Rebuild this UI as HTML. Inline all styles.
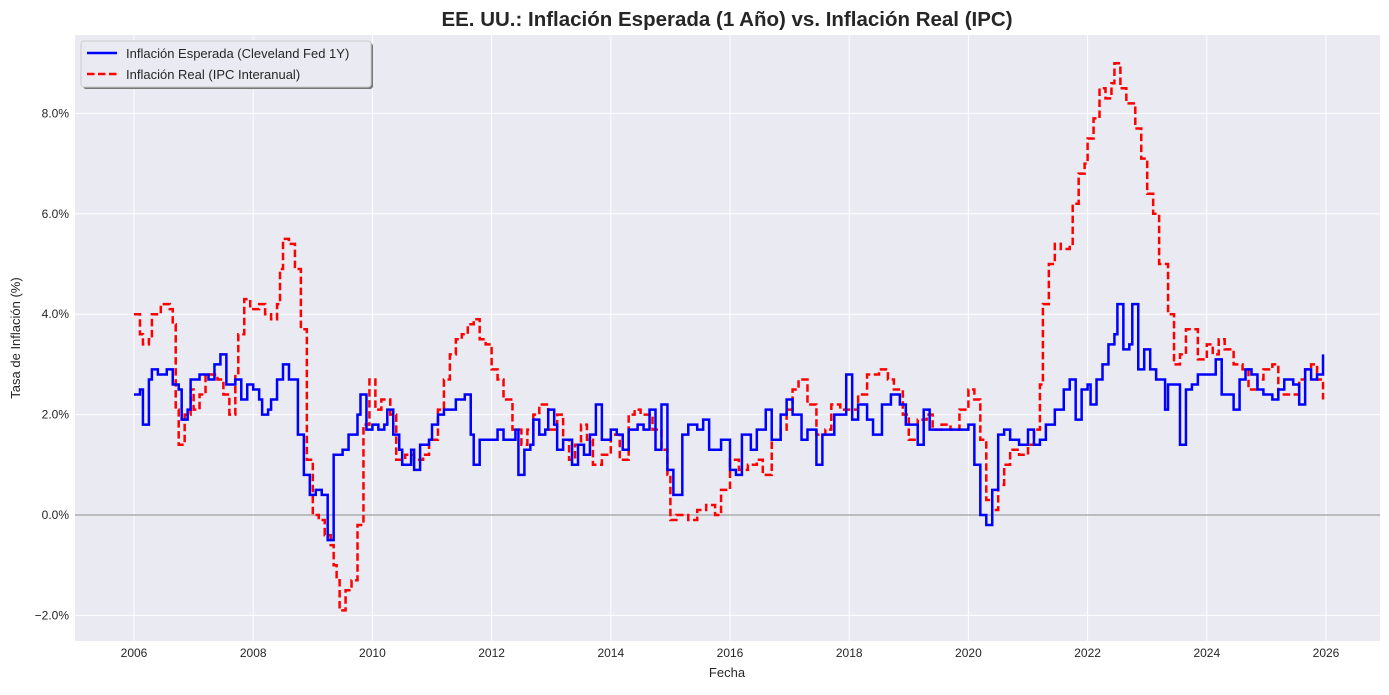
<!DOCTYPE html>
<html><head><meta charset="utf-8"><style>
body{margin:0;background:#fff;font-family:"Liberation Sans",sans-serif}
svg text{font-family:"Liberation Sans",sans-serif}
</style></head><body>
<svg id="s" width="1389" height="690" xmlns="http://www.w3.org/2000/svg">
<rect x="0" y="0" width="1389" height="690" fill="#fff"/>
<rect x="75" y="35" width="1305" height="606" fill="#eaeaf2"/>
<g id="grid"></g>
<line x1="75" x2="1380" y1="515" y2="515" stroke="#999" stroke-width="1.5" opacity="0.8"/>
<path id="red" fill="none" stroke="#ff0000" stroke-width="2.5" stroke-dasharray="7.5,3.5"/>
<path id="blue" fill="none" stroke="#0000ff" stroke-width="2.5"/>
<text x="727" y="26" text-anchor="middle" font-size="20.5" font-weight="bold" fill="#262626">EE. UU.: Inflación Esperada (1 Año) vs. Inflación Real (IPC)</text>
<text x="727" y="677" text-anchor="middle" font-size="13" fill="#262626">Fecha</text>
<text transform="translate(20,338) rotate(-90)" text-anchor="middle" font-size="13" fill="#262626">Tasa de Inflación (%)</text>
<g>
<rect x="83" y="43" width="290" height="46" rx="3" fill="#777"/>
<rect x="81" y="41" width="290" height="46" rx="3" fill="#eaeaf2" stroke="#ccc"/>
<line x1="87" x2="117" y1="53" y2="53" stroke="#0000ff" stroke-width="2.5"/>
<text x="126" y="58" font-size="13" fill="#262626">Inflación Esperada (Cleveland Fed 1Y)</text>
<line x1="87" x2="117" y1="74" y2="74" stroke="#ff0000" stroke-width="2.5" stroke-dasharray="7.5,3.5"/>
<text x="126" y="79" font-size="13" fill="#262626">Inflación Real (IPC Interanual)</text>
</g>
</svg>
<script>
function X(t){return 134+59.6*(t-2006)}function Y(v){return 515-50.2*v}
var g=document.getElementById('grid'),h='';
for(var yr=2006;yr<=2026;yr+=2){var x=X(yr);h+='<line x1="'+x+'" x2="'+x+'" y1="35" y2="641" stroke="#fff"/><text x="'+x+'" y="657" text-anchor="middle" font-size="12" fill="#262626">'+yr+'</text>';}
for(var v=-2;v<=8;v+=2){var y=Y(v);h+='<line x1="75" x2="1380" y1="'+y+'" y2="'+y+'" stroke="#fff"/><text x="69" y="'+(y+4)+'" text-anchor="end" font-size="12" fill="#262626">'+(v<0?'\u2212'+(-v).toFixed(1):v.toFixed(1))+'%</text>';}
g.innerHTML=h;
function P(s,end){var a=s.trim().split(/\s+/).map(function(p){return p.split(':').map(Number)});var d='M'+X(a[0][0])+','+Y(a[0][1]);for(var i=1;i<a.length;i++){d+='H'+X(a[i][0])+'V'+Y(a[i][1]);}d+='H'+X(end);return d;}
var red="2006.0:4.0 2006.1:3.6 2006.15:3.4 2006.25:3.5 2006.3:4.0 2006.45:4.2 2006.6:4.1 2006.65:3.8 2006.7:2.1 2006.75:1.4 2006.85:2.0 2006.95:2.5 2007.0:2.1 2007.1:2.4 2007.2:2.8 2007.4:2.7 2007.5:2.4 2007.6:2.0 2007.7:2.8 2007.75:3.6 2007.85:4.3 2007.95:4.1 2008.1:4.2 2008.2:4.0 2008.3:3.9 2008.4:4.2 2008.45:4.9 2008.5:5.5 2008.6:5.4 2008.7:4.9 2008.8:3.7 2008.9:1.1 2009.0:0.0 2009.1:-0.1 2009.2:-0.4 2009.3:-0.6 2009.35:-1.0 2009.4:-1.3 2009.45:-1.9 2009.55:-1.5 2009.65:-1.3 2009.75:-0.2 2009.85:1.8 2009.95:2.7 2010.05:2.1 2010.15:2.3 2010.3:2.0 2010.4:1.1 2010.55:1.2 2010.7:1.1 2010.85:1.2 2010.95:1.5 2011.1:2.1 2011.2:2.7 2011.3:3.2 2011.4:3.5 2011.5:3.6 2011.6:3.8 2011.7:3.9 2011.8:3.5 2011.9:3.4 2012.0:2.9 2012.1:2.7 2012.2:2.3 2012.35:1.7 2012.5:1.4 2012.6:1.7 2012.7:2.0 2012.8:2.2 2012.95:1.7 2013.1:2.0 2013.2:1.5 2013.3:1.1 2013.4:1.4 2013.5:1.8 2013.6:1.5 2013.7:1.0 2013.85:1.2 2014.0:1.6 2014.15:1.1 2014.3:2.0 2014.4:2.1 2014.5:2.0 2014.7:1.7 2014.85:1.3 2014.95:0.8 2015.0:-0.1 2015.1:0.0 2015.3:-0.1 2015.45:0.1 2015.6:0.2 2015.75:0.0 2015.85:0.5 2016.0:1.1 2016.15:0.9 2016.3:1.0 2016.45:1.1 2016.55:0.8 2016.7:1.5 2016.85:1.7 2016.95:2.1 2017.05:2.5 2017.15:2.7 2017.3:2.2 2017.45:1.6 2017.6:1.7 2017.7:2.2 2017.85:2.1 2018.0:2.1 2018.15:2.4 2018.3:2.8 2018.5:2.9 2018.65:2.7 2018.75:2.5 2018.9:2.0 2019.0:1.5 2019.15:1.9 2019.3:2.0 2019.4:1.7 2019.55:1.8 2019.7:1.7 2019.85:2.1 2020.0:2.5 2020.1:2.3 2020.2:1.5 2020.3:0.3 2020.4:0.1 2020.5:0.6 2020.6:1.0 2020.7:1.3 2020.85:1.2 2021.0:1.4 2021.1:1.7 2021.2:2.6 2021.25:4.2 2021.35:5.0 2021.45:5.4 2021.55:5.3 2021.7:5.4 2021.75:6.2 2021.85:6.8 2021.95:7.0 2022.0:7.5 2022.1:7.9 2022.2:8.5 2022.3:8.3 2022.4:8.6 2022.45:9.0 2022.55:8.5 2022.65:8.2 2022.8:7.7 2022.9:7.1 2023.0:6.4 2023.1:6.0 2023.2:5.0 2023.35:4.0 2023.45:3.0 2023.55:3.2 2023.65:3.7 2023.75:3.7 2023.85:3.1 2024.0:3.4 2024.1:3.2 2024.2:3.5 2024.3:3.3 2024.45:3.0 2024.6:2.9 2024.7:2.5 2024.85:2.7 2024.95:2.9 2025.1:3.0 2025.2:2.4 2025.4:2.4 2025.55:2.7 2025.65:2.9 2025.75:3.0 2025.85:2.7 2025.95:2.3";
var blue="2006.0:2.4 2006.1:2.5 2006.15:1.8 2006.25:2.7 2006.3:2.9 2006.4:2.8 2006.55:2.9 2006.65:2.6 2006.75:2.5 2006.8:1.9 2006.9:2.1 2006.95:2.7 2007.1:2.8 2007.25:2.7 2007.35:3.0 2007.45:3.2 2007.55:2.6 2007.7:2.7 2007.8:2.3 2007.9:2.6 2008.0:2.5 2008.1:2.3 2008.15:2.0 2008.25:2.1 2008.3:2.3 2008.4:2.7 2008.5:3.0 2008.6:2.7 2008.75:1.6 2008.85:0.8 2008.95:0.4 2009.05:0.5 2009.15:0.4 2009.25:-0.5 2009.35:1.2 2009.5:1.3 2009.6:1.6 2009.75:2.0 2009.8:2.4 2009.9:1.7 2010.0:1.8 2010.1:1.7 2010.2:1.8 2010.25:2.1 2010.35:1.6 2010.45:1.3 2010.5:1.0 2010.65:1.3 2010.7:0.9 2010.8:1.4 2010.95:1.5 2011.0:1.8 2011.1:2.0 2011.2:2.1 2011.4:2.3 2011.55:2.4 2011.65:1.6 2011.7:1.0 2011.8:1.5 2012.0:1.5 2012.1:1.7 2012.2:1.5 2012.35:1.5 2012.4:1.7 2012.45:0.8 2012.55:1.3 2012.65:1.4 2012.7:1.9 2012.8:1.6 2012.9:1.7 2012.95:2.1 2013.05:1.8 2013.1:1.3 2013.2:1.5 2013.35:1.0 2013.45:1.4 2013.55:1.2 2013.65:1.6 2013.75:2.2 2013.85:1.5 2014.0:1.7 2014.1:1.6 2014.2:1.3 2014.3:1.7 2014.45:1.8 2014.55:1.7 2014.65:2.1 2014.75:1.3 2014.85:2.2 2014.95:0.9 2015.05:0.4 2015.2:1.6 2015.3:1.8 2015.45:1.7 2015.55:1.9 2015.65:1.3 2015.85:1.5 2016.0:0.9 2016.1:0.8 2016.2:1.6 2016.35:1.3 2016.45:1.7 2016.6:2.1 2016.7:1.5 2016.85:2.0 2016.95:2.3 2017.05:2.0 2017.2:1.5 2017.3:1.7 2017.45:1.0 2017.55:1.6 2017.75:2.0 2017.85:2.0 2017.95:2.8 2018.05:1.9 2018.15:2.2 2018.3:1.9 2018.4:1.6 2018.55:2.2 2018.7:2.4 2018.85:2.2 2018.95:1.8 2019.15:1.4 2019.25:2.1 2019.35:1.7 2019.5:1.7 2019.7:1.7 2019.8:1.7 2020.0:1.8 2020.1:1.0 2020.2:0.0 2020.3:-0.2 2020.4:0.5 2020.5:1.6 2020.6:1.7 2020.7:1.5 2020.85:1.4 2021.0:1.7 2021.1:1.4 2021.2:1.5 2021.3:1.8 2021.45:2.1 2021.6:2.5 2021.7:2.7 2021.8:1.9 2021.9:2.5 2022.0:2.6 2022.05:2.2 2022.15:2.7 2022.25:3.0 2022.35:3.4 2022.45:3.6 2022.5:4.2 2022.6:3.3 2022.7:3.4 2022.75:4.2 2022.85:2.9 2022.95:3.3 2023.05:2.9 2023.15:2.7 2023.3:2.1 2023.35:2.6 2023.55:1.4 2023.65:2.5 2023.75:2.6 2023.85:2.8 2024.0:2.8 2024.15:3.1 2024.25:2.4 2024.45:2.1 2024.55:2.7 2024.65:2.9 2024.75:2.8 2024.85:2.5 2024.95:2.4 2025.1:2.3 2025.2:2.5 2025.3:2.7 2025.45:2.6 2025.55:2.2 2025.65:2.9 2025.75:2.7 2025.85:2.8 2025.95:3.2";
document.getElementById('red').setAttribute('d',P(red,2025.95));
document.getElementById('blue').setAttribute('d',P(blue,2025.95));
</script>
</body></html>
